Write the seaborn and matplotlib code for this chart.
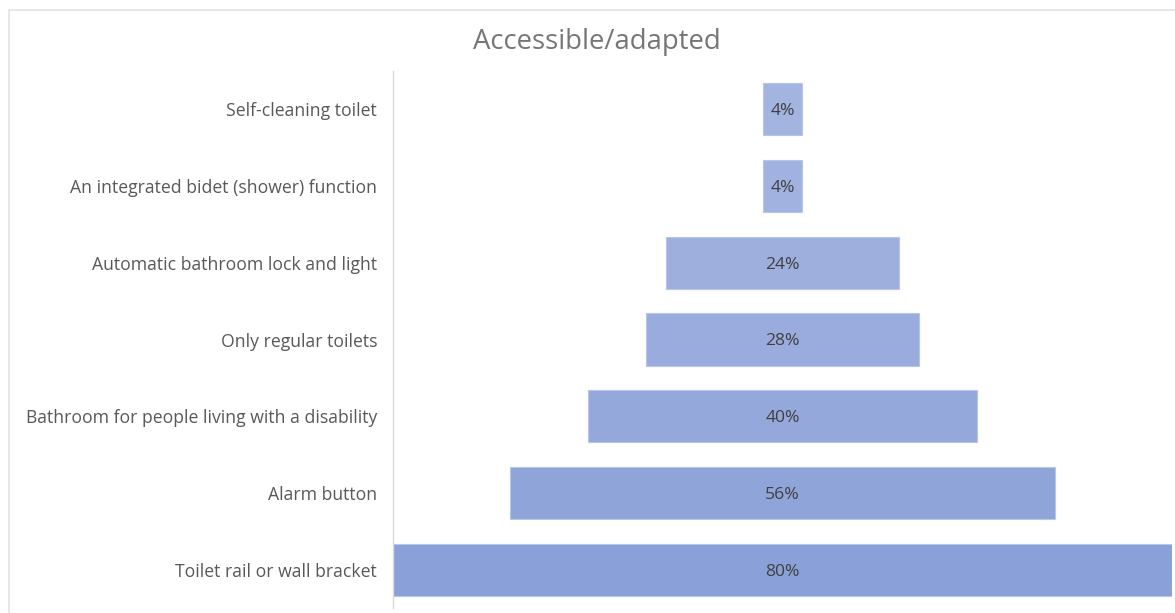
import matplotlib
matplotlib.use("Agg")
import matplotlib.pyplot as plt
import matplotlib.patches as mpatches
import numpy as np
import pandas as pd
import seaborn as sns

categories = [
    "Self-cleaning toilet",
    "An integrated bidet (shower) function",
    "Automatic bathroom lock and light",
    "Only regular toilets",
    "Bathroom for people living with a disability",
    "Alarm button",
    "Toilet rail or wall bracket",
]
values = [4, 4, 24, 28, 40, 56, 80]
title = "Accessible/adapted"

bar_colors = ["#A4B4E1", "#A2B2E0", "#9EAFDE", "#9AACDD", "#95A8DB", "#8FA4D9", "#89A0D8"]

sns.set_theme(style="white")
plt.rcParams["font.family"] = ["Open Sans", "DejaVu Sans"]

df = pd.DataFrame({"category": categories, "value": values})

fig = plt.figure(figsize=(11.75, 6.13), dpi=100)
ax = fig.add_axes([393 / 1175, 1 - 608.4 / 613, (1172 - 393) / 1175, (608.4 - 70.6) / 613])

sns.barplot(data=df, x="value", y="category", hue="category", palette=bar_colors,
            orient="h", width=0.68, legend=False, ax=ax, saturation=1,
            edgecolor="#B8C6EA", linewidth=0.8)

# centre every bar on zero to form the funnel
for patch, v in zip(ax.patches, values):
    patch.set_x(-v / 2)
    patch.set_width(v)
    cy = patch.get_y() + patch.get_height() / 2
    ax.text(0, cy + 0.025, f"{v}%", ha="center", va="center", fontsize=12.6, color="#404040")

ax.set_xlim(-40, 40)
ax.set_ylim(len(categories) - 0.5, -0.5)
ax.set_xlabel("")
ax.set_ylabel("")
ax.set_xticks([])
ax.tick_params(axis="y", length=0, pad=11.5, labelsize=12.7, labelcolor="#595959")
for lbl in ax.get_yticklabels():
    lbl.set_color("#595959")

for side in ["top", "right", "bottom"]:
    ax.spines[side].set_visible(False)
ax.spines["left"].set_color("#D9D9D9")
ax.spines["left"].set_linewidth(1.0)

fig.text(597 / 1175, 1 - 42 / 613, title, ha="center", va="center",
         fontsize=19.8, color="#767676")

# outer chart frame
frame = mpatches.Rectangle((8.5 / 1175, -0.1), 1.2, 1 - 9.5 / 613 + 0.1,
                           transform=fig.transFigure, fill=False,
                           edgecolor="#E3E3E3", linewidth=1.2)
fig.patches.append(frame)

fig.savefig("out.png", dpi=100)
